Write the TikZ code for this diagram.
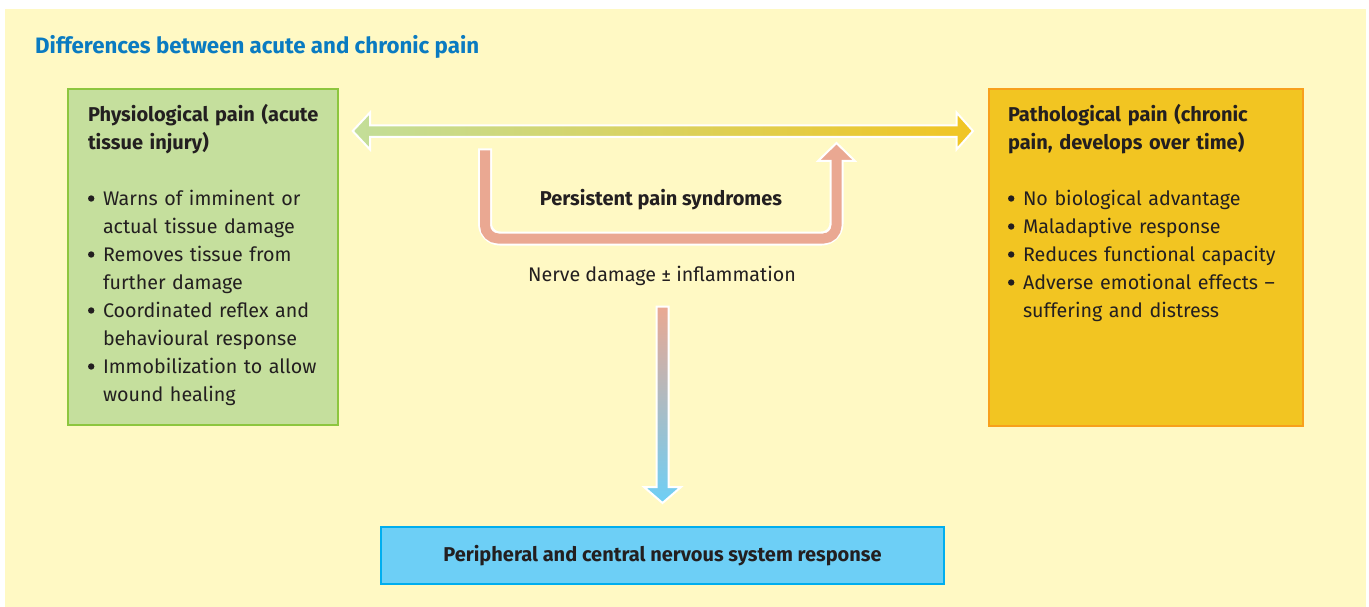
\documentclass[tikz,border=0pt]{standalone}
\usepackage{fontspec}
\setmainfont{Fira Sans}
\definecolor{bgyellow}{HTML}{FFF9C4}
\definecolor{greenfill}{HTML}{C5DF9D}
\definecolor{greenedge}{HTML}{8DC63F}
\definecolor{yellowfill}{HTML}{F2C522}
\definecolor{orangeedge}{HTML}{F8A01C}
\definecolor{bluefill}{HTML}{6DCFF6}
\definecolor{blueedge}{HTML}{00AEEF}
\definecolor{titleblue}{HTML}{0A7BC1}
\definecolor{textgray}{HTML}{231F20}
\definecolor{salmon}{HTML}{EAA892}
\definecolor{arrgreen}{HTML}{C3DE99}
\definecolor{arryellow}{HTML}{F1C523}
\newcommand\bodyfont{\fontsize{19.7}{28}\selectfont}
\newcommand\boldbody{\fontsize{20}{28}\selectfont\bfseries}
\newcommand\bulletdot{\tikz[baseline=0pt]\fill[textgray] (3.4pt,7pt) circle[radius=3.2pt];}
\newcommand\bitem[1]{\noindent\hangindent=15pt\hangafter=1\hbox to 15pt{\bulletdot\hfil}#1\par}
\begin{document}
\begin{tikzpicture}[x=1pt,y=-1pt,
  txt/.style={text=textgray, inner sep=0pt, outer sep=0pt},
  panel/.style={line width=2pt, anchor=north west, inner sep=0pt},
  listtext/.style={txt, anchor=base west, text width=300pt, align=left, font=\bodyfont},
  headtext/.style={txt, anchor=base west, text width=300pt, align=left, font=\boldbody},
  outline/.style={draw=white, line width=2pt}]
\useasboundingbox (0,0) rectangle (1369,607);
\fill[white] (0,0) rectangle (1369,607);
\fill[bgyellow] (5,9) rectangle (1366,607);

\node[anchor=base west, inner sep=0pt, text=titleblue, font=\fontsize{22.3}{26}\selectfont\bfseries] (title) at (35,54) {Differences between acute and chronic pain};

% panels
\node[panel, draw=greenedge, fill=greenfill, minimum width=270pt, minimum height=336pt] (phys) at (67,88) {};
\node[panel, draw=orangeedge, fill=yellowfill, minimum width=314pt, minimum height=337pt] (patho) at (988,88) {};
\node[draw=blueedge, fill=bluefill, line width=2pt, minimum width=563pt, minimum height=57pt, text=textgray, font=\boldbody] (cns) at (662.5,555.5) {Peripheral and central nervous system response};

% panel texts
\node[headtext] (physhead) at (88,121.7) {Physiological pain (acute\newline tissue injury)};
\node[listtext] (physlist) at (88,205.5) {\bitem{Warns of imminent or\newline actual tissue damage}\bitem{Removes tissue from\newline further damage}\bitem{Coordinated reflex and\newline behavioural response}\bitem{Immobilization to allow\newline wound healing}};
\node[headtext] (pathohead) at (1008,121.7) {Pathological pain (chronic\newline pain, develops over time)};
\node[listtext] (patholist) at (1008,205.5) {\bitem{No biological advantage}\bitem{Maladaptive response}\bitem{Reduces functional capacity}\bitem{Adverse emotional effects --\newline suffering and distress}};

% middle labels
\node[txt, anchor=base, font=\boldbody] (pps) at (661,205) {Persistent pain syndromes};
\node[txt, anchor=base, font=\bodyfont] (nerve) at (662,281.5) {Nerve damage ± inflammation};

% double-headed gradient arrow
\path[outline, left color=arrgreen, right color=arryellow]
  (352.7,131) -- (370,112.5) -- (370,125.5) -- (956.5,125.5) -- (956.5,112.5)
  -- (973,131) -- (956.5,149.5) -- (956.5,137) -- (370,137) -- (370,149.5) -- cycle;

% U-shaped arrow
\draw[white, line width=14pt, rounded corners=15pt] (485,148.5) -- (485,238.5) -- (836.5,238.5) -- (836.5,162);
\path[outline, fill=salmon] (818,161) -- (836.5,143) -- (855,161) -- cycle;
\draw[salmon, line width=10pt, rounded corners=13pt] (485,150.5) -- (485,238.5) -- (836.5,238.5) -- (836.5,158);

% downward arrow
\path[outline, top color=salmon, bottom color=bluefill]
  (656.5,306.5) -- (668.5,306.5) -- (668.5,487) -- (681,487) -- (662.5,503)
  -- (644,487) -- (656.5,487) -- cycle;
\end{tikzpicture}
\end{document}
